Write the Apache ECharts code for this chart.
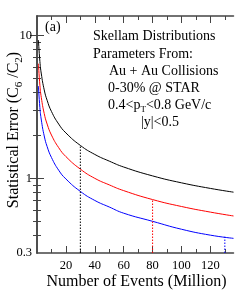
<!DOCTYPE html>
<html><head><meta charset="utf-8">
<script src="https://cdn.jsdelivr.net/npm/echarts@6/dist/echarts.min.js"></script>
<style>html,body{margin:0;padding:0;background:#fff}#c{width:249px;height:295px}</style>
</head><body><div id="c"></div>
<script>
var xEvents = [1, 2, 3, 5, 7, 10, 15, 20, 30, 40, 50, 60, 80, 100, 120, 136];
var blackErr = [9.3, 6.58, 5.38, 4.16, 3.52, 2.94, 2.40, 2.08, 1.70, 1.47, 1.32, 1.20, 1.04, 0.93, 0.85, 0.80];
var redErr   = [6.35, 4.49, 3.67, 2.84, 2.40, 2.01, 1.64, 1.42, 1.16, 1.00, 0.90, 0.82, 0.71, 0.635, 0.58, 0.545];
var blueErr  = [4.43, 3.13, 2.56, 1.98, 1.67, 1.40, 1.14, 0.99, 0.81, 0.70, 0.63, 0.57, 0.50, 0.44, 0.40, 0.38];
var markX = [30, 80, 130];
var markTop = [1.70, 0.71, 0.39];
var xLabels = [20, 40, 60, 80, 100, 120];
var xMinor = [10, 30, 50, 70, 90, 110, 130];
var yLabels = [0.3, 1, 10];
var yMinor = [0.4, 0.5, 0.6, 0.7, 0.8, 0.9, 2, 3, 4, 5, 6, 7, 8, 9];
var yMajor = [1, 10];

var F = '"Liberation Serif", "Times New Roman", serif';
var AX = '#444';
function zip(xs, ys) { return xs.map(function (x, i) { return [x, ys[i]]; }); }

var chart = echarts.init(document.getElementById('c'), null, {renderer: 'canvas'});
var grid = {left: 37, right: 15.5, top: 16, bottom: 42};
var xBase = {type: 'value', min: 0, max: 136, splitLine: {show: false}};
var yBase = {type: 'log', logBase: 10, min: 0.3, max: 13.7, splitLine: {show: false}};

function txt(x, y, s) {
  return {type: 'text', x: x, y: y, style: {text: s, font: '14px ' + F, fill: '#000', verticalAlign: 'middle'}};
}

var option = {
  animation: false,
  grid: grid,
  xAxis: [
    Object.assign({}, xBase, {position: 'bottom',
      axisLine: {show: true, lineStyle: {color: AX, width: 1.5}},
      axisTick: {show: true, inside: true, length: 7, customValues: xLabels, lineStyle: {color: AX}},
      axisLabel: {show: true, customValues: xLabels, margin: 6, color: '#000', fontFamily: F, fontSize: 12.5}}),
    Object.assign({}, xBase, {position: 'bottom',
      axisLine: {show: false},
      axisTick: {show: true, inside: true, length: 4, customValues: xMinor, lineStyle: {color: AX}},
      axisLabel: {show: false}}),
    Object.assign({}, xBase, {position: 'top',
      axisLine: {show: true, lineStyle: {color: AX, width: 1.5}},
      axisTick: {show: true, inside: true, length: 7, customValues: xLabels, lineStyle: {color: AX}},
      axisLabel: {show: false}}),
    Object.assign({}, xBase, {position: 'top',
      axisLine: {show: false},
      axisTick: {show: true, inside: true, length: 4, customValues: xMinor, lineStyle: {color: AX}},
      axisLabel: {show: false}})
  ],
  yAxis: [
    Object.assign({}, yBase, {position: 'left',
      axisLine: {show: true, lineStyle: {color: AX, width: 1.5}},
      axisTick: {show: true, inside: true, length: 7, customValues: yMajor, lineStyle: {color: AX}},
      axisLabel: {show: true, customValues: yLabels, margin: 5, color: '#000', fontFamily: F, fontSize: 12.5,
        formatter: function (v) { return String(Math.round(v * 10) / 10); }}}),
    Object.assign({}, yBase, {position: 'left',
      axisLine: {show: false},
      axisTick: {show: true, inside: true, length: 4, customValues: yMinor, lineStyle: {color: AX}},
      axisLabel: {show: false}}),
    Object.assign({}, yBase, {position: 'right',
      axisLine: {show: true, lineStyle: {color: AX, width: 1.5}},
      axisTick: {show: true, inside: true, length: 7, customValues: yMajor, lineStyle: {color: AX}},
      axisLabel: {show: false}}),
    Object.assign({}, yBase, {position: 'right',
      axisLine: {show: false},
      axisTick: {show: true, inside: true, length: 4, customValues: yMinor, lineStyle: {color: AX}},
      axisLabel: {show: false}})
  ],
  series: [
    {type: 'line', smooth: true, symbol: 'none', data: zip(xEvents, blackErr), lineStyle: {color: '#000', width: 1}},
    {type: 'line', smooth: true, symbol: 'none', data: zip(xEvents, redErr), lineStyle: {color: '#ff0000', width: 1}},
    {type: 'line', smooth: true, symbol: 'none', data: zip(xEvents, blueErr), lineStyle: {color: '#0000ff', width: 1}},
    {type: 'line', symbol: 'none', data: [[markX[0], 0.3], [markX[0], markTop[0]]], lineStyle: {color: '#000', width: 1, type: [1.5, 1.5]}},
    {type: 'line', symbol: 'none', data: [[markX[1], 0.3], [markX[1], markTop[1]]], lineStyle: {color: '#ff0000', width: 1, type: [1.5, 1.5]}},
    {type: 'line', symbol: 'none', data: [[markX[2], 0.3], [markX[2], markTop[2]]], lineStyle: {color: '#0000ff', width: 1, type: [1.5, 1.5]}}
  ],
  graphic: [
    txt(45, 27, '(a)'),
    txt(93, 36, 'Skellam Distributions'),
    txt(93, 54, 'Parameters From:'),
    txt(109, 71, 'Au + Au Collisions'),
    txt(108, 88, '0-30% @ STAR'),
    {type: 'text', x: 108, y: 105, style: {
      text: '{n|0.4<p}{s|T}{n|<0.8 GeV/c}', verticalAlign: 'middle',
      rich: {n: {fontFamily: F, fontSize: 14, fill: '#000'}, s: {fontFamily: F, fontSize: 9, fill: '#000', padding: [9, 0, 0, 0]}}}},
    txt(141, 122, '|y|<0.5'),
    {type: 'text', x: 14, y: 130, rotation: Math.PI / 2, style: {
      text: '{n|Statistical Error (C}{s|6}{n| /C}{s|2}{n|)}', align: 'center', verticalAlign: 'middle',
      rich: {n: {fontFamily: F, fontSize: 16, fill: '#000'}, s: {fontFamily: F, fontSize: 11, fill: '#000', padding: [10, 0, 0, 0]}}}},
    {type: 'text', x: 136.5, y: 282, style: {text: 'Number of Events (Million)', align: 'center', verticalAlign: 'middle', font: '16px ' + F, fill: '#000'}}
  ]
};
chart.setOption(option);
</script></body></html>
